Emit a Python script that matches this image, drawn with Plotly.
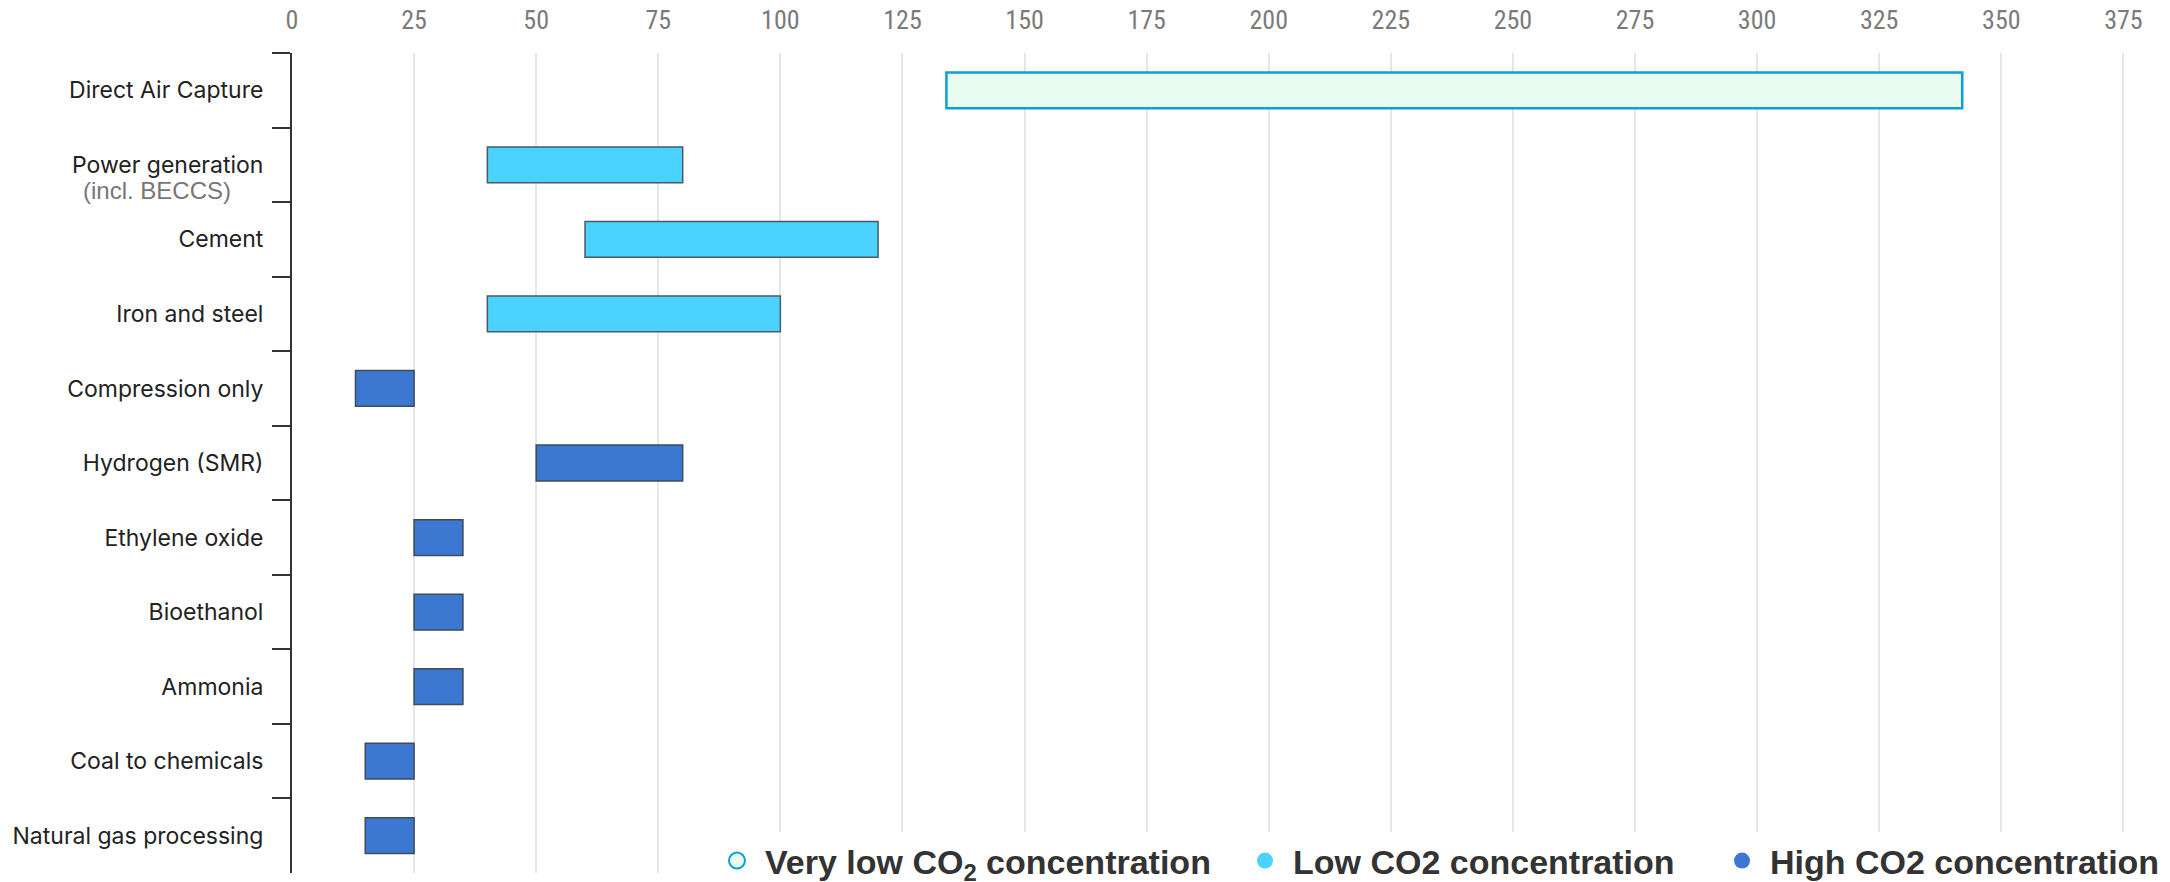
import plotly.graph_objects as go

categories = ["Direct Air Capture", "Power generation", "Cement", "Iron and steel",
              "Compression only", "Hydrogen (SMR)", "Ethylene oxide", "Bioethanol",
              "Ammonia", "Coal to chemicals", "Natural gas processing"]

very_low_cats = ["Direct Air Capture"]
very_low_min = [134]
very_low_max = [342]

low_cats = ["Power generation", "Cement", "Iron and steel"]
low_min = [40, 60, 40]
low_max = [80, 120, 100]

high_cats = ["Compression only", "Hydrogen (SMR)", "Ethylene oxide", "Bioethanol",
             "Ammonia", "Coal to chemicals", "Natural gas processing"]
high_min = [13, 50, 25, 25, 25, 15, 15]
high_max = [25, 80, 35, 35, 35, 25, 25]

x_ticks = list(range(0, 376, 25))

legend_names = ["Very low CO<sub>2</sub> concentration", "Low CO2 concentration", "High CO2 concentration"]

VL_FILL, VL_LINE = "#e8fcef", "#0aa0d8"
LO_FILL, LO_LINE = "#4bd2fe", "#4a5a66"
HI_FILL, HI_LINE = "#3c78d2", "#3d4b5a"

fig = go.Figure()

def add_bars(cats, lo, hi, fill, line, lw):
    fig.add_trace(go.Bar(
        orientation="h", y=cats, base=lo, x=[h - l for l, h in zip(lo, hi)],
        width=0.48, marker=dict(color=fill, line=dict(color=line, width=lw)),
        showlegend=False, hoverinfo="skip"))

add_bars(very_low_cats, very_low_min, very_low_max, VL_FILL, VL_LINE, 2.5)
add_bars(low_cats, low_min, low_max, LO_FILL, LO_LINE, 1.5)
add_bars(high_cats, high_min, high_max, HI_FILL, HI_LINE, 1.5)

leg_styles = [(VL_FILL, VL_LINE, 2), (LO_FILL, LO_FILL, 0), (HI_FILL, HI_FILL, 0)]
leg_ids = ["legend", "legend2", "legend3"]
for name, (fc, lc, lw), lid in zip(legend_names, leg_styles, leg_ids):
    fig.add_trace(go.Scatter(
        x=[None], y=[None], mode="markers", name=name, legend=lid,
        marker=dict(symbol="circle", size=22, color=fc, line=dict(color=lc, width=lw))))

PW = 2170 - 292 - 10
PH = 882 - 53 - 9
x_max = PW / 4.8837

leg_font = dict(family="Liberation Sans, Arial, sans-serif", size=34, color="#333333", weight="bold")
leg_x = [(709 - 292) / PW, (1237 - 292) / PW, (1714 - 292) / PW]
leg_common = dict(orientation="h", bgcolor="white", font=leg_font, yanchor="middle",
                  y=12 / PH, xanchor="left", borderwidth=0, itemwidth=46)

fig.update_layout(
    width=2170, height=882,
    margin=dict(l=292, r=10, t=53, b=9, autoexpand=False),
    plot_bgcolor="white", paper_bgcolor="white",
    barmode="overlay",
    xaxis=dict(side="top", range=[0, x_max], tickvals=x_ticks,
               showgrid=True, gridcolor="#e6e6e6", gridwidth=1.5,
               zeroline=False, showline=False, ticks="",
               tickfont=dict(family="Liberation Sans Narrow, Arial Narrow, Roboto Condensed, sans-serif",
                             size=26, color="#7a7a7a"),
               ticklabelstandoff=18),
    yaxis=dict(categoryorder="array", categoryarray=categories,
               range=[len(categories) - 0.5, -0.5],
               showline=True, linecolor="#333333", linewidth=2,
               ticks="outside", tickson="boundaries", ticklen=18, tickwidth=2, tickcolor="#333333",
               showgrid=False, zeroline=False,
               tickfont=dict(family="Inter, Noto Sans, sans-serif", size=23, color="#222222"),
               ticklabelstandoff=22),
    legend=dict(x=leg_x[0], **leg_common),
    legend2=dict(x=leg_x[1], **leg_common),
    legend3=dict(x=leg_x[2], **leg_common),
    annotations=[dict(text="(incl. BECCS)", xref="paper", yref="y", x=(157 - 292) / PW,
                      y="Power generation", yshift=-26, showarrow=False, xanchor="center",
                      font=dict(family="Liberation Sans, Arial, sans-serif", size=24, color="#777777"))],
)

fig.write_html("out.html")
